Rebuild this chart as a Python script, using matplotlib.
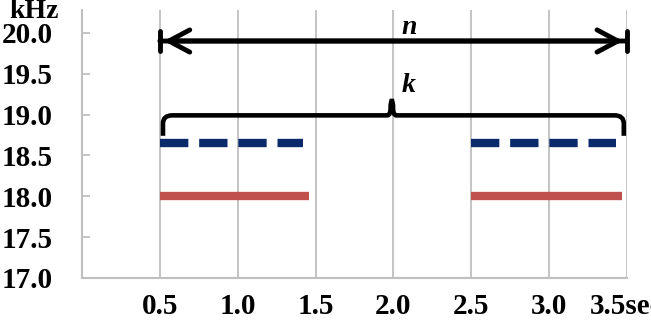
import matplotlib.pyplot as plt
from matplotlib.path import Path
from matplotlib.patches import PathPatch

# series (frequency in kHz, time in sec)
red_segments = [(0.5, 1.46), (2.5, 3.47)]
red_freq = 18.0
blue_segments = [(0.5, 1.42), (2.5, 3.43)]
blue_freq = 18.65

# annotations
n_span = (0.5, 3.5)
n_freq = 19.9
k_span = (0.52, 3.48)
k_freq = 18.99
k_mid = 1.99

x_ticks = [0.5, 1.0, 1.5, 2.0, 2.5, 3.0, 3.5]
x_labels = ["0.5", "1.0", "1.5", "2.0", "2.5", "3.0", "3.5sec"]
y_ticks = [17.0, 17.5, 18.0, 18.5, 19.0, 19.5, 20.0]

plt.rcParams['font.family'] = ['Liberation Serif', 'DejaVu Serif']
plt.rcParams['font.weight'] = 'bold'

fig = plt.figure(figsize=(6.51, 3.21), dpi=100)
ax = fig.add_axes([0.126, 0.134, 0.837, 0.835])

grid_c = '#BFBFBF'
for x in x_ticks:
    ax.axvline(x, color=grid_c, lw=1.3, zorder=0)

for x0, x1 in red_segments:
    ax.plot([x0, x1], [red_freq, red_freq], color='#C0504D', lw=6, solid_capstyle='butt')
for x0, x1 in blue_segments:
    ax.plot([x0, x1], [blue_freq, blue_freq], color='#0B2A6B', lw=6,
            dashes=(3.4, 1.3), solid_capstyle='butt', dash_capstyle='butt')

# n arrow with end bars
ax.annotate('', xy=(n_span[1], n_freq), xytext=(n_span[0], n_freq),
            arrowprops=dict(arrowstyle='|-|,widthA=0.75,widthB=0.75', lw=3.5,
                            color='black', mutation_scale=10, shrinkA=0, shrinkB=0))
ax.annotate('', xy=(n_span[1] - 0.025, n_freq), xytext=(n_span[0] + 0.025, n_freq),
            arrowprops=dict(arrowstyle='<->,head_width=0.8,head_length=1.5', lw=3.5,
                            color='black', mutation_scale=10, shrinkA=0, shrinkB=0))
ax.text(2.1, 20.06, 'n', style='italic', fontsize=20, ha='center', va='center')

# k brace
x0, x1 = k_span
drop = 0.25
rx, ry = 0.06, 0.1
verts = [(x0, k_freq - drop), (x0, k_freq - ry), (x0, k_freq), (x0 + rx, k_freq),
         (k_mid - 0.03, k_freq), (k_mid - 0.005, k_freq), (k_mid - 0.008, k_freq + 0.12), (k_mid, k_freq + 0.24),
         (k_mid + 0.008, k_freq + 0.12), (k_mid + 0.005, k_freq), (k_mid + 0.03, k_freq),
         (x1 - rx, k_freq), (x1, k_freq), (x1, k_freq - ry), (x1, k_freq - drop)]
codes = [Path.MOVETO, Path.LINETO, Path.CURVE3, Path.CURVE3,
         Path.LINETO, Path.CURVE3, Path.CURVE3, Path.CURVE3,
         Path.CURVE3, Path.CURVE3, Path.CURVE3,
         Path.LINETO, Path.CURVE3, Path.CURVE3, Path.LINETO]
ax.add_patch(PathPatch(Path(verts, codes), fill=False, lw=3.3, color='black', capstyle='butt'))
ax.text(2.1, 19.36, 'k', style='italic', fontsize=20, ha='center', va='center')

ax.set_xlim(0, 3.5)
ax.set_ylim(17.0, 20.28)
ax.set_xticks(x_ticks)
ax.set_xticklabels(x_labels)
ax.set_yticks(y_ticks)
ax.set_yticklabels([f"{v:.1f}" for v in y_ticks])
ax.tick_params(axis='x', length=0, pad=11, labelsize=21)
ax.tick_params(axis='y', direction='in', length=6, width=1.3, color=grid_c, pad=21, labelsize=21)

for s in ['top', 'right']:
    ax.spines[s].set_visible(False)
for s in ['left', 'bottom']:
    ax.spines[s].set_color(grid_c)
    ax.spines[s].set_linewidth(1.5)

fig.text(34 / 651, 1 - 11 / 321, 'kHz', fontsize=20, ha='center', va='center')

fig.savefig('out.png', dpi=100)
